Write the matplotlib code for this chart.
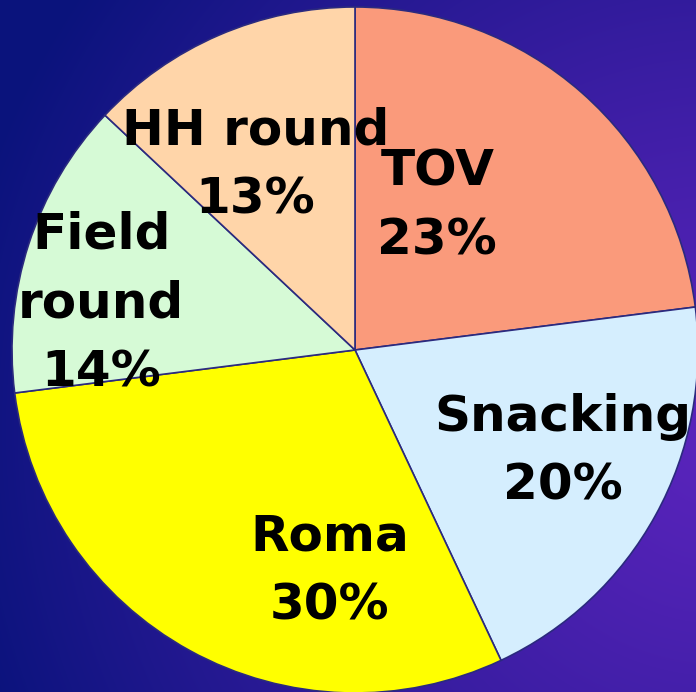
import numpy as np
import matplotlib
matplotlib.use("Agg")
import matplotlib.pyplot as plt
from matplotlib.colors import to_rgb

# dados do grafico
categorias = ["TOV", "Snacking", "Roma", "Field\nround", "HH round"]
percentuais = [23, 20, 30, 14, 13]
cores = ["#FA9A7B", "#D5EEFE", "#FFFF00", "#D6FAD6", "#FFD5A9"]

# posicao dos rotulos (relativa ao centro da pizza, raio = 1)
pos_rotulos = [(0.24, 0.42), (0.605, -0.295), (-0.075, -0.645), (-0.74, 0.135), (-0.29, 0.54)]


def main():
    largura, altura = 696, 692
    fig = plt.figure(figsize=(largura / 100, altura / 100), dpi=100)

    # fundo em degrade (azul escuro -> roxo)
    fundo = fig.add_axes([0, 0, 1, 1], zorder=0)
    yy, xx = np.mgrid[0:altura, 0:largura]
    dist = np.hypot(xx - 720, yy - 430) / 780.0
    t = np.clip(dist, 0, 1) ** 1.2
    roxo = np.array(to_rgb("#5A24BC"))
    azul = np.array(to_rgb("#0A137C"))
    img = roxo[None, None, :] * (1 - t[..., None]) + azul[None, None, :] * t[..., None]
    fundo.imshow(img, aspect="auto", interpolation="bilinear")
    fundo.axis("off")

    # pizza
    ax = fig.add_axes([0, 0, 1, 1], zorder=1)
    ax.patch.set_alpha(0)
    r = 343.0
    cx, cy = 355.0, altura - 350.0
    ax.pie(percentuais, colors=cores, startangle=90, counterclock=False, radius=1,
           wedgeprops=dict(edgecolor="#2B2A7E", linewidth=1.2))
    ax.set_xlim(-cx / r, (largura - cx) / r)
    ax.set_ylim(-cy / r, (altura - cy) / r)
    ax.set_aspect("auto")
    ax.axis("off")

    for nome, pct, (x, y) in zip(categorias, percentuais, pos_rotulos):
        ax.text(x, y, f"{nome}\n{pct}%", ha="center", va="center", fontsize=36,
                fontweight="bold", color="black", linespacing=1.55, family="DejaVu Sans")

    fig.savefig("out.png", dpi=100)


if __name__ == "__main__":
    main()
